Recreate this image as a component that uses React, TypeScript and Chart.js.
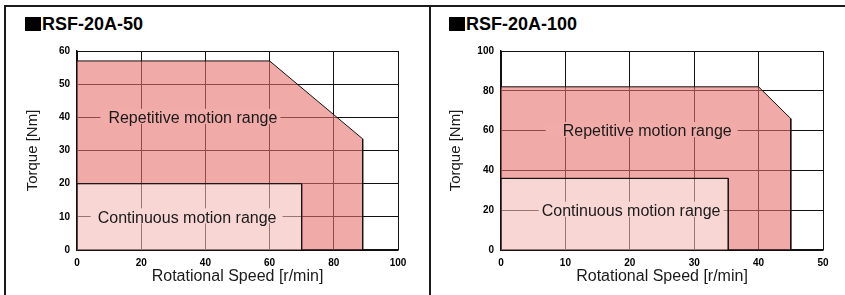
import React, { useEffect, useRef } from "react";
import { Chart, registerables } from "chart.js";
Chart.register(...registerables);

const FONT = "'Liberation Sans', Arial, Helvetica, sans-serif";

// ---- RSF-20A-50 ----
const speedTicks50 = [0, 20, 40, 60, 80, 100];
const torqueTicks50 = [0, 10, 20, 30, 40, 50, 60];
const repSpeed50 = [0, 60, 89, 89];
const repTorque50 = [57, 57, 33.5, 0];
const contSpeed50 = [0, 70, 70];
const contTorque50 = [20, 20, 0];

// ---- RSF-20A-100 ----
const speedTicks100 = [0, 10, 20, 30, 40, 50];
const torqueTicks100 = [0, 20, 40, 60, 80, 100];
const repSpeed100 = [0, 40, 45, 45];
const repTorque100 = [82, 82, 66, 0];
const contSpeed100 = [0, 35.3, 35.3];
const contTorque100 = [36, 36, 0];

const REP_LABEL = "Repetitive motion range";
const CONT_LABEL = "Continuous motion range";

const REP_FILL = "rgba(230,115,110,0.6)";
const REP_BG = "rgb(241,171,168)";
const CONT_FILL = "rgba(243,187,183,0.6)";
const CONT_BG = "rgb(248,214,212)";

const labelPlugin = {
  id: "rangeLabels",
  afterDatasetsDraw(chart: any, _args: any, opts: any) {
    const { ctx } = chart;
    const x = chart.scales.x;
    const y = chart.scales.y;
    for (const l of opts.items || []) {
      ctx.save();
      ctx.font = `16px ${FONT}`;
      const w = ctx.measureText(l.text).width;
      const cx = x.getPixelForValue(l.x);
      const cy = y.getPixelForValue(l.y);
      ctx.fillStyle = l.bg;
      ctx.fillRect(cx - w / 2 - l.padL, cy - 8.5, w + l.padL + l.padR, 15);
      ctx.fillStyle = "#1a1a1a";
      ctx.textAlign = "left";
      ctx.textBaseline = "alphabetic";
      ctx.fillText(l.text, cx - w / 2, cy + 5.7);
      ctx.restore();
    }
  },
};

type PanelProps = {
  left: number;
  width: number;
  plotLeft: number;
  plotRightPad: number;
  yTitlePad: number;
  speedTicks: number[];
  torqueTicks: number[];
  repSpeed: number[];
  repTorque: number[];
  contSpeed: number[];
  contTorque: number[];
  labels: any[];
};

function Panel(p: PanelProps) {
  const ref = useRef<HTMLCanvasElement | null>(null);
  useEffect(() => {
    if (!ref.current) return;
    const rep = p.repSpeed.map((s, i) => ({ x: s, y: p.repTorque[i] }));
    const contPts = p.contSpeed.map((s, i) => ({ x: s, y: p.contTorque[i] }));
    const repPoly = rep.concat(contPts.slice().reverse());
    const contPoly = [{ x: 0, y: 0 }].concat(contPts);
    const tickCfg = { color: "#000", font: { family: FONT, size: 10, weight: "bold" as const }, padding: 7 };
    const chart = new Chart(ref.current, {
      type: "scatter",
      data: {
        datasets: [
          {
            data: repPoly,
            showLine: true,
            fill: "shape",
            backgroundColor: REP_FILL,
            borderColor: "#111",
            borderWidth: 1,
            pointRadius: 0,
            tension: 0,
          },
          {
            data: contPoly,
            showLine: true,
            fill: "shape",
            backgroundColor: CONT_FILL,
            borderColor: "#111",
            borderWidth: 1,
            pointRadius: 0,
            tension: 0,
          },
        ],
      },
      options: {
        animation: false,
        responsive: false,
        devicePixelRatio: 1,
        layout: { padding: { left: 0, top: 44, right: p.plotRightPad, bottom: 0 } },
        plugins: {
          legend: { display: false },
          tooltip: { enabled: false },
          rangeLabels: { items: p.labels },
        } as any,
        scales: {
          x: {
            type: "linear",
            min: p.speedTicks[0],
            max: p.speedTicks[p.speedTicks.length - 1],
            afterBuildTicks: (s: any) => {
              s.ticks = p.speedTicks.map((v) => ({ value: v }));
            },
            afterFit: (s: any) => {
              s.height = 45;
            },
            ticks: tickCfg,
            grid: { color: "#111", lineWidth: 1, drawTicks: false },
            border: { color: "#111", width: 1.5 },
            title: {
              display: true,
              text: "Rotational Speed [r/min]",
              color: "#1a1a1a",
              font: { family: FONT, size: 16 },
              padding: { top: 0, bottom: 8.4 },
            },
          },
          y: {
            type: "linear",
            min: p.torqueTicks[0],
            max: p.torqueTicks[p.torqueTicks.length - 1],
            afterBuildTicks: (s: any) => {
              s.ticks = p.torqueTicks.map((v) => ({ value: v }));
            },
            afterFit: (s: any) => {
              s.width = p.plotLeft;
            },
            ticks: tickCfg,
            grid: { color: "#111", lineWidth: 1, drawTicks: false },
            border: { color: "#111", width: 1.5 },
            title: {
              display: true,
              text: "Torque [Nm]",
              color: "#1a1a1a",
              font: { family: FONT, size: 15 },
              padding: { top: p.yTitlePad, bottom: 0 },
            },
          },
        },
      } as any,
      plugins: [labelPlugin as any],
    });
    return () => chart.destroy();
  }, []);
  return (
    <canvas
      ref={ref}
      width={p.width}
      height={288}
      style={{ position: "absolute", left: p.left, top: 7, width: p.width, height: 288, display: "block" }}
    />
  );
}

function Title({ left, text }: { left: number; text: string }) {
  return (
    <>
      <div style={{ position: "absolute", left, top: 17, width: 16, height: 14, background: "#000" }} />
      <div
        style={{
          position: "absolute",
          left: left + 17,
          top: 15,
          fontFamily: FONT,
          fontWeight: "bold",
          fontSize: 18,
          lineHeight: "18px",
          color: "#000",
          whiteSpace: "nowrap",
        }}
      >
        {text}
      </div>
    </>
  );
}

export default function App() {
  return (
    <div style={{ position: "absolute", left: 0, top: 0, width: 845, height: 295, background: "#fff", overflow: "hidden" }}>
      <div style={{ position: "absolute", left: 4, top: 5, width: 841, height: 2, background: "#1a1a1a" }} />
      <div style={{ position: "absolute", left: 4, top: 5, width: 2, height: 290, background: "#1a1a1a" }} />
      <div style={{ position: "absolute", left: 429, top: 5, width: 2, height: 290, background: "#1a1a1a" }} />
      <Title left={25} text="RSF-20A-50" />
      <Title left={449} text="RSF-20A-100" />
      <Panel
        left={6}
        width={423}
        plotLeft={71}
        plotRightPad={31}
        yTitlePad={17.5}
        speedTicks={speedTicks50}
        torqueTicks={torqueTicks50}
        repSpeed={repSpeed50}
        repTorque={repTorque50}
        contSpeed={contSpeed50}
        contTorque={contTorque50}
        labels={[
          { text: REP_LABEL, x: 36.1, y: 40, padL: 8, padR: 3, bg: REP_BG },
          { text: CONT_LABEL, x: 34.3, y: 10, padL: 7, padR: 6, bg: CONT_BG },
        ]}
      />
      <Panel
        left={431}
        width={414}
        plotLeft={70}
        plotRightPad={22}
        yTitlePad={16}
        speedTicks={speedTicks100}
        torqueTicks={torqueTicks100}
        repSpeed={repSpeed100}
        repTorque={repTorque100}
        contSpeed={contSpeed100}
        contTorque={contTorque100}
        labels={[
          { text: REP_LABEL, x: 22.7, y: 60, padL: 17, padR: 6, bg: REP_BG },
          { text: CONT_LABEL, x: 20.2, y: 20, padL: 3, padR: 3, bg: CONT_BG },
        ]}
      />
    </div>
  );
}
